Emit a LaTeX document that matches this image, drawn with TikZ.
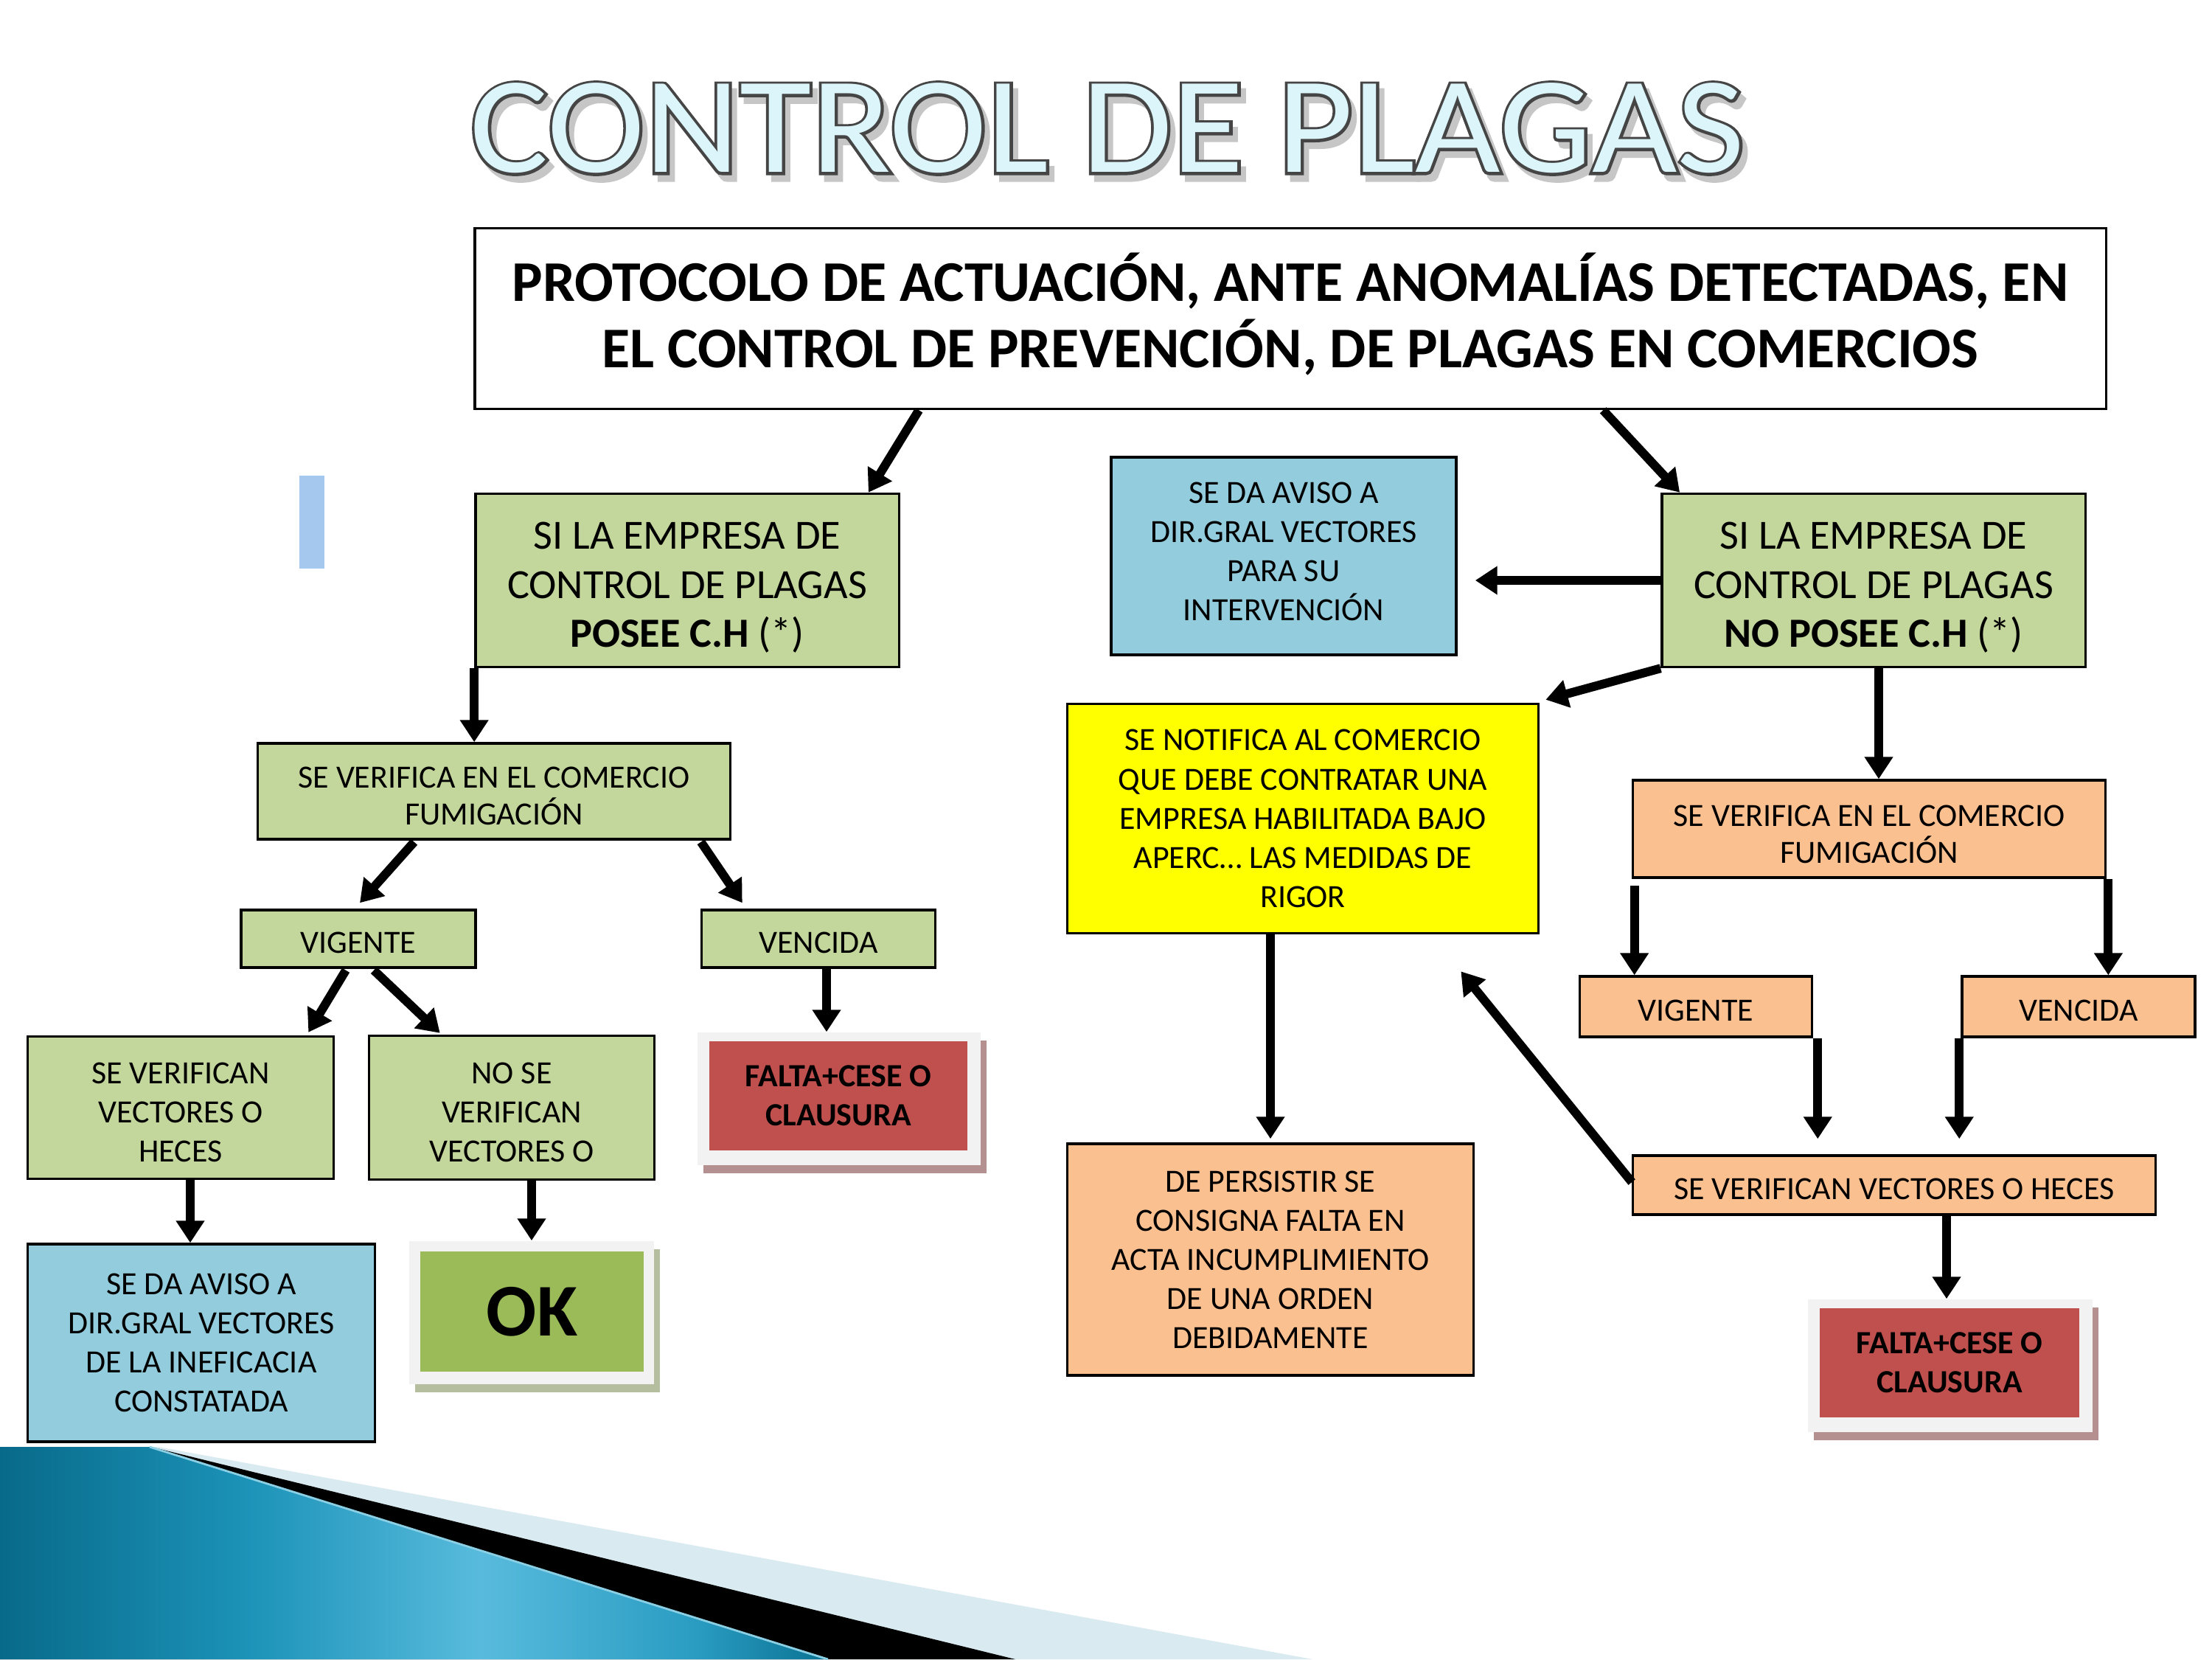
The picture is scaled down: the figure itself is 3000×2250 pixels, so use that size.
\documentclass[tikz,border=0pt]{standalone}
\usepackage{fontspec}
\setmainfont{Carlito}
\newfontfamily\titleol[FakeBold=4]{Carlito}
\usepackage{graphicx}
\usetikzlibrary{calc,arrows.meta,shadows}
\definecolor{cgreen}{HTML}{C3D69B}
\definecolor{cblue}{HTML}{93CDDD}
\definecolor{corange}{HTML}{FAC090}
\definecolor{cred}{HTML}{C0504D}
\definecolor{cok}{HTML}{9BBB59}
\definecolor{cyel}{HTML}{FFFF00}
\definecolor{cframe}{HTML}{F2F2F2}
\definecolor{credsh}{HTML}{B59090}
\definecolor{coksh}{HTML}{B5BE9E}
\definecolor{ctitle}{HTML}{DCF5FA}
\definecolor{tline}{HTML}{454545}
\definecolor{cstripe}{HTML}{A4C8EE}
\definecolor{clight}{HTML}{D9EBF1}
\definecolor{tealA}{HTML}{086A8A}
\definecolor{tealB}{HTML}{1C93B8}
\definecolor{tealC}{HTML}{58BBDD}
\definecolor{tealD}{HTML}{2A9CC2}
\definecolor{tealE}{HTML}{0A7393}
\definecolor{tealedge}{HTML}{8ACFE4}
\pgfdeclarehorizontalshading{tealfan}{100bp}{color(0bp)=(tealA); color(25bp)=(tealA); color(40bp)=(tealB); color(54bp)=(tealC); color(67bp)=(tealD); color(75bp)=(tealE); color(100bp)=(tealE)}
\newcommand{\tscale}[1]{\scalebox{1.07}[1]{#1}}
\newcommand{\tstrut}[1]{\rule{0pt}{#1}}
\newcommand{\bstrut}[1]{\rule[-#1]{0pt}{0pt}}
\tikzset{
  box/.style={draw=black, line width=0.95pt, align=center, inner sep=0pt,
    font=\fontsize{12.5}{15.1}\selectfont, text=black},
  sz/.style 2 args={minimum width=#1cm, minimum height=#2cm},
  arr/.style={line width=3.4pt, -{Triangle[length=8.5pt,width=10.5pt]}},
  framebox/.style={fill=cframe, inner sep=0pt,
    drop shadow={shadow xshift=0.08cm, shadow yshift=-0.11cm, fill=#1, opacity=1}},
  titlef/.style={inner sep=0pt, font=\fontsize{53}{60}\selectfont},
  titleo/.style={inner sep=0pt, font=\fontsize{53}{60}\titleol},
}
\begin{document}
\begin{tikzpicture}[x=0.01cm,y=-0.01cm]
\useasboundingbox (0,0) rectangle (3000,2250);
\fill[white] (0,0) rectangle (3000,2250);

% bottom-left decoration
\fill[clight] (215,1962) -- (1780,2250) -- (0,2250) -- (0,1962) -- cycle;
\fill[black] (205,1962) -- (1377,2250) -- (0,2250) -- cycle;
\shade[shading=tealfan] (0,1962) -- (203,1962) -- (1123,2250) -- (0,2250) -- cycle;
\draw[tealedge, line width=0.8pt] (203,1962) -- (1123,2250);

% small stripe
\fill[cstripe] (406,645) rectangle (440,771);

% title
\node[titleo, text=gray!45] (tsh) at (1509,183) {\tscale{CONTROL DE PLAGAS}};
\node[titleo, text=tline] (tol) at (1502,174) {\tscale{CONTROL DE PLAGAS}};
\node[titlef, text=ctitle] (title) at (1502,174) {\tscale{CONTROL DE PLAGAS}};

% header
\node[box, fill=white, sz={22.11}{2.45}, font=\fontsize{22.2}{25.6}\selectfont\bfseries] (header) at (1750,432)
  {PROTOCOLO DE ACTUACIÓN, ANTE ANOMALÍAS DETECTADAS, EN\\EL CONTROL DE PREVENCIÓN, DE PLAGAS EN COMERCIOS\bstrut{6.3pt}};

% main green boxes
\node[box, fill=cgreen, sz={5.74}{2.35}, font=\fontsize{16}{18.9}\selectfont] (lg) at (932,787)
  {\tstrut{16pt}SI LA EMPRESA DE\\CONTROL DE PLAGAS\\\textbf{POSEE C.H} (*)};
\node[box, fill=cgreen, sz={5.74}{2.35}, font=\fontsize{16}{18.9}\selectfont] (rg) at (2541,787)
  {\tstrut{16pt}SI LA EMPRESA DE\\CONTROL DE PLAGAS\\\textbf{NO POSEE C.H} (*)};

% right branch
\node[box, fill=cblue, sz={4.68}{2.68}] (bl1) at (1741,754)
  {SE DA AVISO A\\DIR.GRAL VECTORES\\PARA SU\\INTERVENCIÓN\bstrut{3.4pt}};
\node[box, fill=cyel, sz={6.39}{3.11}] (yel) at (1767,1110)
  {SE NOTIFICA AL COMERCIO\\QUE DEBE CONTRATAR UNA\\EMPRESA HABILITADA BAJO\\APERC… LAS MEDIDAS DE\\RIGOR};
\node[box, fill=corange, sz={6.41}{1.32}, font=\fontsize{12.5}{14.2}\selectfont] (ro1) at (2535,1124)
  {\tstrut{12.3pt}SE VERIFICA EN EL COMERCIO\\FUMIGACIÓN};
\node[box, fill=corange, sz={3.15}{0.82}] (rvig) at (2300,1365) {\tstrut{11.2pt}VIGENTE};
\node[box, fill=corange, sz={3.16}{0.82}] (rven) at (2819,1365) {\tstrut{11.2pt}VENCIDA};
\node[box, fill=corange, sz={7.08}{0.80}] (rvec) at (2569,1607) {\tstrut{11.2pt}SE VERIFICAN VECTORES O HECES};
\node[box, fill=corange, sz={5.51}{3.14}] (dep) at (1723,1708)
  {DE PERSISTIR SE\\CONSIGNA FALTA EN\\ACTA INCUMPLIMIENTO\\DE UNA ORDEN\\DEBIDAMENTE};
\node[framebox=credsh, sz={3.85}{1.80}] (rredf) at (2645,1852) {};
\node[inner sep=0pt, fill=cred, sz={3.52}{1.47}, align=center, font=\fontsize{12.5}{15.1}\selectfont\bfseries] (rred) at (2644,1848)
  {FALTA+CESE O\\CLAUSURA};

% left branch
\node[box, fill=cgreen, sz={6.41}{1.30}, font=\fontsize{12.5}{14.2}\selectfont] (lf) at (670,1073)
  {\tstrut{11.9pt}SE VERIFICA EN EL COMERCIO\\FUMIGACIÓN};
\node[box, fill=cgreen, sz={3.18}{0.78}] (lvig) at (486,1273) {\tstrut{11.2pt}VIGENTE};
\node[box, fill=cgreen, sz={3.17}{0.78}] (lven) at (1110,1273) {\tstrut{11.2pt}VENCIDA};
\node[box, fill=cgreen, sz={4.15}{1.93}] (lsv) at (245,1502)
  {\tstrut{11.5pt}SE VERIFICAN\\VECTORES O\\HECES};
\node[box, fill=cgreen, sz={3.87}{1.95}] (lnsv) at (694,1502)
  {\tstrut{11.5pt}NO SE\\VERIFICAN\\VECTORES O};
\node[framebox=credsh, sz={3.83}{1.80}] (lredf) at (1138,1490) {};
\node[inner sep=0pt, fill=cred, sz={3.50}{1.47}, align=center, font=\fontsize{12.5}{15.1}\selectfont\bfseries] (lred) at (1137,1486)
  {FALTA+CESE O\\CLAUSURA};
\node[box, fill=cblue, sz={4.71}{2.68}] (lbl) at (273,1821)
  {SE DA AVISO A\\DIR.GRAL VECTORES\\DE LA INEFICACIA\\CONSTATADA};
\node[framebox=coksh, sz={3.32}{1.94}] (okf) at (721,1780) {};
\node[inner sep=0pt, fill=cok, sz={3.03}{1.63}, font=\fontsize{28.7}{32}\selectfont\bfseries] (ok) at (721.5,1778.5) {OK};

% connectors
\draw[arr] ($(header.south west)+(604,0)$) -- ($(lg.north east)+(-43,0)$);
\draw[arr] ($(header.south west)+(1532,0)$) -- ($(rg.north west)+(26,0)$);
\draw[arr] (rg.west) -- ($(bl1.east |- rg.west)+(24,0)$);
\draw[arr] (rg.south west) -- ($(yel.north east)+(8,-4)$);
\coordinate (s5) at ($(rg.south)+(7,0)$);
\draw[arr] (s5) -- (s5 |- ro1.north);
\coordinate (s6) at ($(ro1.south west)+(4,9)$);
\draw[arr] (s6) -- (s6 |- rvig.north);
\coordinate (s7) at ($(ro1.south east)+(2,0)$);
\draw[arr] (s7) -- (s7 |- rven.north);
\coordinate (s8) at ($(rvig.south east)+(6,0)$);
\draw[arr, shorten >=0.21cm] (s8) -- (s8 |- rvec.north);
\coordinate (s9) at ($(rven.south west)+(-2,0)$);
\draw[arr, shorten >=0.21cm] (s9) -- (s9 |- rvec.north);
\draw[arr] ($(rvec.west)+(0,-4)$) -- ($(yel.south east)+(-107,50)$);
\coordinate (s11) at ($(rvec.south)+(71,0)$);
\draw[arr] (s11) -- (s11 |- rredf.north);
\coordinate (s12) at (yel.south -| dep.north);
\draw[arr, shorten >=0.05cm] (s12) -- (dep.north);

\draw[arr] (lg.south west) -- (lg.south west |- lf.north);
\draw[arr] ($(lf.south west)+(214,2)$) -- ($(lvig.north)+(2,-8)$);
\draw[arr] ($(lf.south west)+(603,2)$) -- ($(lven.north west)+(57,-8)$);
\draw[arr] ($(lvig.south)+(-17,2)$) -- ($(lsv.north east)+(-36,-4)$);
\draw[arr] ($(lvig.south)+(21,2)$) -- ($(lnsv.north west)+(98,-2)$);
\coordinate (s18) at ($(lven.south)+(11,0)$);
\draw[arr] (s18) -- (s18 |- lredf.north);
\coordinate (s19) at ($(lsv.south)+(13,0)$);
\draw[arr] (s19) -- (s19 |- lbl.north);
\coordinate (s20) at ($(lnsv.south)+(27,0)$);
\draw[arr] (s20) -- (s20 |- okf.north);
\end{tikzpicture}
\end{document}
